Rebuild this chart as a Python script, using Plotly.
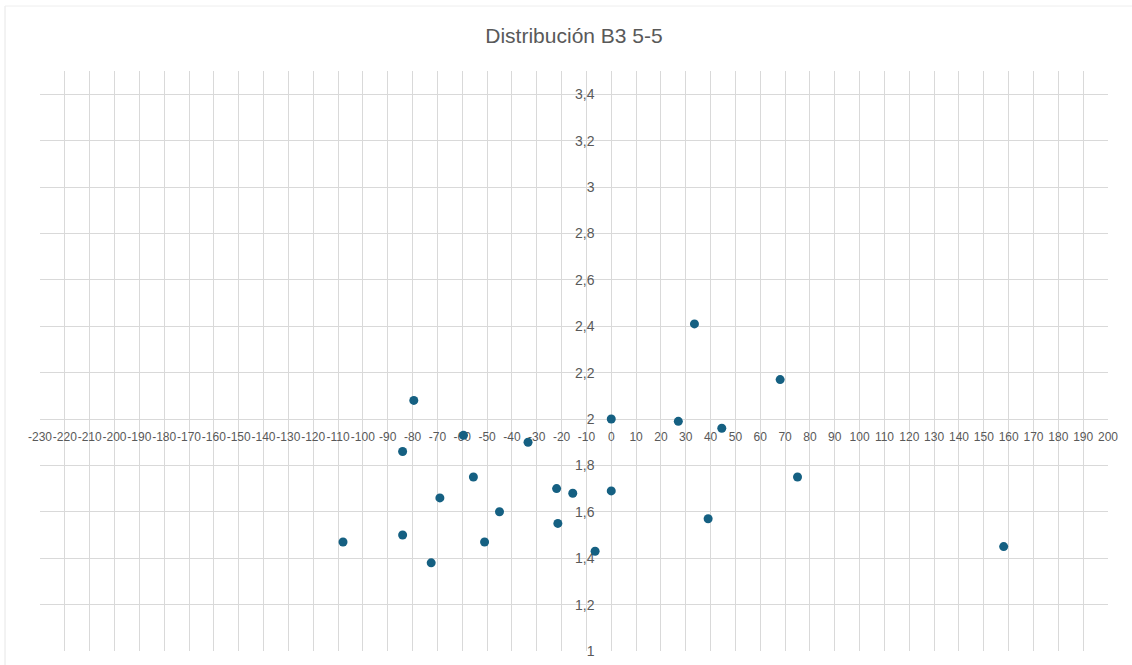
import plotly.graph_objects as go

# Scatter data: horizontal value and vertical value per observation
x_values = [-108, -84, -72.5, -79.5, -84, -69, -59.5, -55.5, -51, -45, -33.5, -22,
            -21.5, -15.5, -6.5, 0, 0, 27, 33.5, 39, 44.5, 68, 75, 158]
y_values = [1.47, 1.50, 1.38, 2.08, 1.86, 1.66, 1.93, 1.75, 1.47, 1.60, 1.90, 1.70,
            1.55, 1.68, 1.43, 2.00, 1.69, 1.99, 2.41, 1.57, 1.96, 2.17, 1.75, 1.45]

# Horizontal tick positions and their labels (plain hyphen as the minus sign)
x_ticks = list(range(-230, 201, 10))
x_tick_labels = [str(v) for v in x_ticks]

title_text = "Distribución B3 5-5"
x_range = [-230, 200]
y_range = [1, 3.5]
x_cross = 0      # vertical axis crosses the horizontal one here
y_cross = 2      # horizontal axis crosses the vertical one here

W, H = 1132, 665
grid = "#d9d9d9"
text_col = "#595959"
font_family = "Liberation Sans, Arial, sans-serif"

fig = go.Figure(
    go.Scatter(
        x=x_values,
        y=y_values,
        mode="markers",
        marker=dict(size=9, color="#156082", line=dict(width=0)),
        hoverinfo="x+y",
    )
)

fig.update_layout(
    width=W,
    height=H,
    margin=dict(l=40, r=24, t=71, b=14),
    paper_bgcolor="white",
    plot_bgcolor="white",
    separators=",.",
    showlegend=False,
    title=dict(
        text=title_text,
        x=0.5,
        xref="paper",
        xanchor="center",
        y=1 - 36 / H,
        yref="container",
        yanchor="middle",
        font=dict(family=font_family, size=21, color=text_col),
    ),
    xaxis=dict(
        range=x_range,
        tickmode="array",
        tickvals=x_ticks,
        ticktext=x_tick_labels,
        tickangle=0,
        showgrid=True,
        gridcolor=grid,
        gridwidth=1,
        zeroline=False,
        showline=False,
        anchor="free",
        position=(y_cross - y_range[0]) / (y_range[1] - y_range[0]),
        ticks="outside",
        ticklen=7,
        tickcolor="rgba(0,0,0,0)",
        tickfont=dict(family=font_family, size=12, color=text_col),
        layer="below traces",
        automargin=False,
        fixedrange=True,
    ),
    yaxis=dict(
        range=y_range,
        tick0=1,
        dtick=0.2,
        showgrid=True,
        gridcolor=grid,
        gridwidth=1,
        zeroline=False,
        showline=False,
        anchor="free",
        position=(x_cross - x_range[0]) / (x_range[1] - x_range[0]),
        ticks="outside",
        ticklen=14,
        tickcolor="rgba(0,0,0,0)",
        tickfont=dict(family=font_family, size=14, color=text_col),
        layer="below traces",
        automargin=False,
        fixedrange=True,
    ),
    shapes=[
        # chart-area frame (left and top edges)
        dict(type="line", xref="paper", yref="paper",
             x0=(5 - 40) / 1068, x1=(5 - 40) / 1068,
             y0=(651 - 665) / 580, y1=(651 - 6) / 580,
             line=dict(color="#e6e6e6", width=1)),
        dict(type="line", xref="paper", yref="paper",
             x0=(5 - 40) / 1068, x1=(1132 - 40) / 1068,
             y0=(651 - 6) / 580, y1=(651 - 6) / 580,
             line=dict(color="#eeeeee", width=1)),
    ],
)

fig.write_html("out.html")
